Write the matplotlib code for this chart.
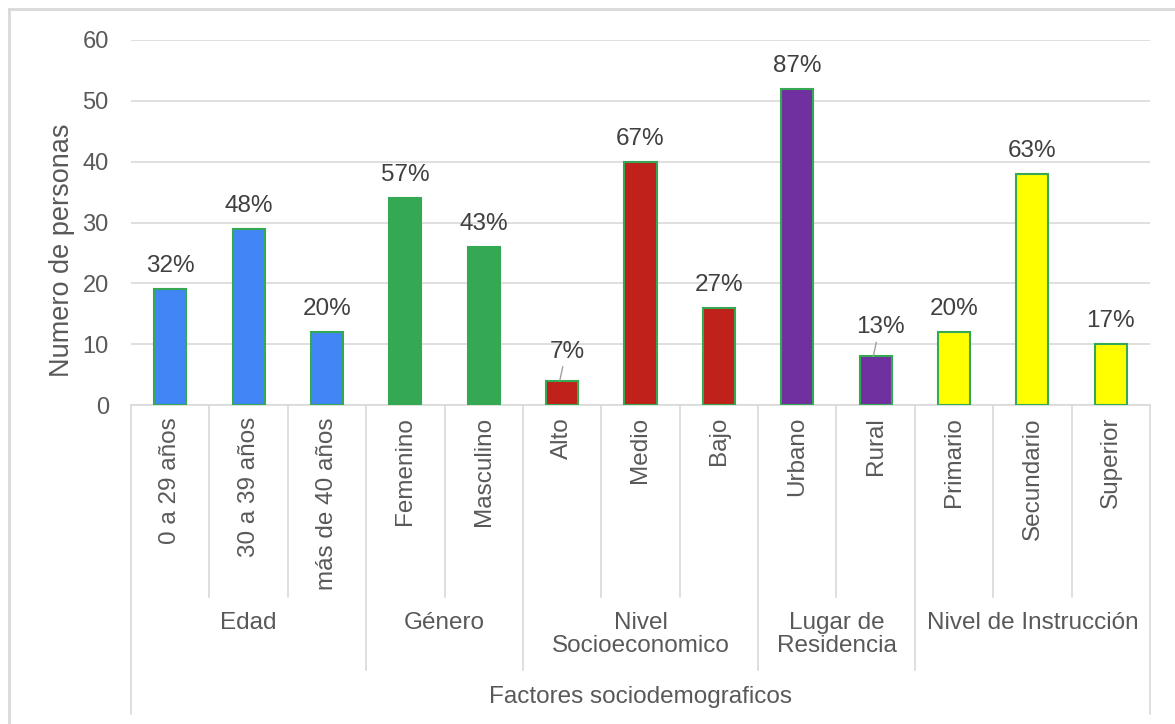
import matplotlib

matplotlib.use("Agg")
import matplotlib.pyplot as plt
from matplotlib.lines import Line2D
from matplotlib.transforms import blended_transform_factory

plt.rcParams["font.family"] = ["Liberation Sans", "DejaVu Sans"]

# data
categories = ["0 a 29 años", "30 a 39 años", "más de 40 años",
              "Femenino", "Masculino",
              "Alto", "Medio", "Bajo",
              "Urbano", "Rural",
              "Primario", "Secundario", "Superior"]
counts = [19, 29, 12, 34, 26, 4, 40, 16, 52, 8, 12, 38, 10]
percent_labels = ["32%", "48%", "20%", "57%", "43%", "7%", "67%", "27%",
                  "87%", "13%", "20%", "63%", "17%"]
groups = ["Edad", "Género", "Nivel\nSocioeconomico", "Lugar de\nResidencia",
          "Nivel de Instrucción"]
group_sizes = [3, 2, 3, 2, 3]
group_colors = ["#4285F4", "#34A853", "#C0211A", "#7030A0", "#FFFF00"]

TXT = "#595959"
GRID = "#D9D9D9"
W, H = 1175, 724


def fy(py):
    # pixel row (from top) -> figure fraction
    return (H - py) / H


fig = plt.figure(figsize=(W / 100, H / 100), dpi=100)
ax = fig.add_axes([131 / W, fy(405), (1150 - 131) / W, (405 - 40) / H])

bar_colors = []
for c, n in zip(group_colors, group_sizes):
    bar_colors += [c] * n

xs = list(range(len(categories)))
bars = ax.bar(xs, counts, width=0.41, color=bar_colors, edgecolor="#34A853",
              linewidth=1.5, zorder=3)

ax.set_xlim(-0.5, len(categories) - 0.5)
ax.set_ylim(0, 60)
ax.set_yticks(range(0, 61, 10))
ax.grid(True, axis="y", color=GRID, linewidth=1.2, zorder=0)
ax.tick_params(axis="y", length=0, pad=16, labelsize=17, labelcolor=TXT)
ax.tick_params(axis="x", length=0, labelbottom=False)
for side in ["top", "right", "left"]:
    ax.spines[side].set_visible(False)
ax.spines["bottom"].set_color(GRID)
ax.spines["bottom"].set_linewidth(1.2)

# data labels (small bars get a leader line, as in the original)
for rect, lab, v in zip(bars, percent_labels, counts):
    cx = rect.get_x() + rect.get_width() / 2
    if v < 10:
        ax.annotate(lab, xy=(cx, v), xytext=(5, 29), textcoords="offset pixels",
                    ha="center", va="center", fontsize=17.5, color="#404040")
        ax.annotate("", xy=(cx - 0.03, v), xytext=(3, 14), textcoords="offset pixels",
                    zorder=4, arrowprops=dict(arrowstyle="-", color="#A0A0A0", lw=1.0,
                                              shrinkA=0, shrinkB=0))
    else:
        ax.annotate(lab, xy=(cx, v), xytext=(0, 23), textcoords="offset pixels",
                    ha="center", va="center", fontsize=17.5, color="#404040")

# multi-level category axis
tr = blended_transform_factory(ax.transData, fig.transFigure)
for i, name in enumerate(categories):
    ax.text(i, fy(417), name, transform=tr, rotation=90, ha="center", va="top",
            fontsize=17.5, color=TXT)

edges = [-0.5]
for n in group_sizes:
    edges.append(edges[-1] + n)

for k, n in enumerate(group_sizes):
    lo, hi = edges[k], edges[k + 1]
    for m in range(1, n):
        ax.add_line(Line2D([lo + m, lo + m], [fy(405), fy(597)], transform=tr,
                           color=GRID, lw=1.2, clip_on=False))
    ax.text((lo + hi) / 2, fy(612), groups[k], transform=tr, ha="center", va="top",
            fontsize=17.5, color=TXT, linespacing=1.05, multialignment="center")

for j, e in enumerate(edges):
    bottom = fy(714) if j in (0, len(edges) - 1) else fy(670)
    ax.add_line(Line2D([e, e], [fy(405), bottom], transform=tr, color=GRID, lw=1.2,
                       clip_on=False))

fig.text((131 + 1150) / 2 / W, fy(697), "Factores sociodemograficos", ha="center",
         va="center", fontsize=17.5, color=TXT)
fig.text(62 / W, fy(250), "Numero de personas", rotation=90, ha="center",
         va="center", fontsize=19.5, color=TXT)

# outer chart frame (cropped at right and bottom)
fig.add_artist(Line2D([9 / W, 9 / W], [fy(9), 0], transform=fig.transFigure,
                      color=GRID, lw=2))
fig.add_artist(Line2D([9 / W, 1], [fy(9), fy(9)], transform=fig.transFigure,
                      color=GRID, lw=2))

fig.savefig("out.png", dpi=100)
